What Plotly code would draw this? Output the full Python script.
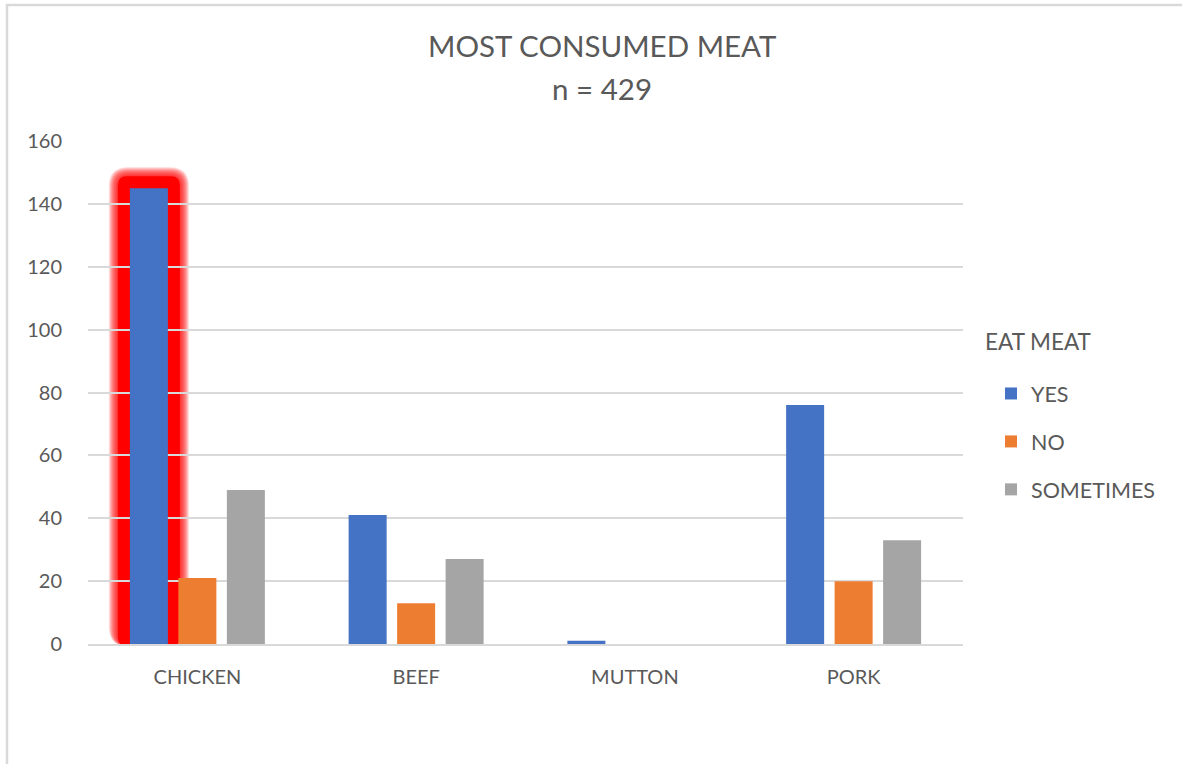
import plotly.graph_objects as go

# Survey counts per meat type, split by how often respondents eat meat
meats = ["CHICKEN", "BEEF", "MUTTON", "PORK"]
yes_counts = [145, 41, 1, 76]
no_counts = [21, 13, 0, 20]
sometimes_counts = [49, 27, 0, 33]

series_names = ["YES", "NO", "SOMETIMES"]
series_colors = ["#4472C4", "#ED7D31", "#A5A5A5"]

y_ticks = [0, 20, 40, 60, 80, 100, 120, 140, 160]

# Figure geometry
W, H = 1182, 764
ML, MR, MT, MB = 88, 219, 141, 120
PLOT_W = W - ML - MR
PLOT_H = H - MT - MB
Y_MAX = 160
BARGAP = 0.335
BARGROUPGAP = 0.216

TEXT = "#595959"
GRID = "#D9D9D9"
FONT = "Lato"

fig = go.Figure()
for name, vals, col in zip(series_names, [yes_counts, no_counts, sometimes_counts], series_colors):
    fig.add_trace(go.Bar(
        x=meats, y=vals, name=name, legendgroup=name,
        marker=dict(color=col, line=dict(width=0)),
    ))


def px_to_paper_x(px):
    return px / PLOT_W


def px_to_paper_y(px):
    return px / PLOT_H


def page_x(px):
    """Page pixel column -> paper x."""
    return (px - ML) / PLOT_W


def page_y(py):
    """Page pixel row -> paper y."""
    return 1 - (py - MT) / PLOT_H


# Red glow highlighting the top bar (CHICKEN / YES), built from its value
n_cat = len(meats)
slot = (1 - BARGAP) / 3.0
hi_idx = yes_counts.index(max(yes_counts))
bar_center = hi_idx - slot  # YES is the first bar in each group
bar_half = slot * (1 - BARGROUPGAP) / 2.0
cx0 = (bar_center - bar_half + 0.5) / n_cat
cx1 = (bar_center + bar_half + 0.5) / n_cat
top = yes_counts[hi_idx] / Y_MAX


def rounded_rect(x0, y0, x1, y1, rx, ry):
    return (f"M{x0 + rx},{y0} L{x1 - rx},{y0} Q{x1},{y0} {x1},{y0 + ry} "
            f"L{x1},{y1 - ry} Q{x1},{y1} {x1 - rx},{y1} L{x0 + rx},{y1} "
            f"Q{x0},{y1} {x0},{y1 - ry} L{x0},{y0 + ry} Q{x0},{y0} {x0 + rx},{y0} Z")


shapes = []
for pad in range(21, 12, -1):
    dx, dy = px_to_paper_x(pad), px_to_paper_y(pad)
    shapes.append(dict(
        type="path", xref="paper", yref="paper", layer="between",
        path=rounded_rect(cx0 - dx, -px_to_paper_y(2), cx1 + dx, top + dy,
                          px_to_paper_x(pad * 0.9), px_to_paper_y(pad * 0.9)),
        fillcolor="rgba(255,0,0,0.15)", line=dict(width=0),
    ))
pad = 12
shapes.append(dict(
    type="path", xref="paper", yref="paper", layer="between",
    path=rounded_rect(cx0 - px_to_paper_x(pad), -px_to_paper_y(2), cx1 + px_to_paper_x(pad),
                      top + px_to_paper_y(pad), px_to_paper_x(9), px_to_paper_y(9)),
    fillcolor="#FF0000", line=dict(width=0),
))

# Chart frame (only its top and left edges fall inside the page)
shapes.append(dict(
    type="rect", xref="paper", yref="paper", layer="below",
    x0=page_x(7), x1=page_x(W + 40),
    y0=page_y(H + 40), y1=page_y(5),
    line=dict(color=GRID, width=2.5), fillcolor="rgba(0,0,0,0)",
))

fig.update_layout(
    width=W, height=H,
    margin=dict(l=ML, r=MR, t=MT, b=MB, autoexpand=False),
    paper_bgcolor="white", plot_bgcolor="white",
    font=dict(family=FONT, color=TEXT, size=20),
    barmode="group", bargap=BARGAP, bargroupgap=BARGROUPGAP,
    annotations=[
        dict(text="MOST CONSUMED MEAT", x=page_x(602), y=page_y(46),
             xref="paper", yref="paper", xanchor="center", yanchor="middle",
             showarrow=False, font=dict(size=29.5, color=TEXT, family=FONT)),
        dict(text="n = 429", x=page_x(602), y=page_y(88),
             xref="paper", yref="paper", xanchor="center", yanchor="middle",
             showarrow=False, font=dict(size=29.5, color=TEXT, family=FONT)),
        dict(text="EAT MEAT", x=page_x(983), y=page_y(341),
             xref="paper", yref="paper", xanchor="left", yanchor="middle",
             showarrow=False, font=dict(size=22.5, color=TEXT, family=FONT)),
    ],
    legend=dict(x=page_x(991), xanchor="left", y=page_y(373), yanchor="top",
                font=dict(size=21.5, color=TEXT, family=FONT),
                tracegroupgap=17, itemwidth=30, bgcolor="rgba(0,0,0,0)"),
    xaxis=dict(showgrid=False, showline=True, linecolor=GRID, linewidth=2,
               ticks="", ticklabelstandoff=14, tickfont=dict(size=20, color=TEXT)),
    yaxis=dict(range=[0, Y_MAX], tickvals=y_ticks, showgrid=True, gridcolor=GRID,
               gridwidth=2, zeroline=False, showline=False, ticks="",
               ticklabelstandoff=25, tickfont=dict(size=20, color=TEXT)),
    shapes=shapes,
)

fig.write_html("out.html")
